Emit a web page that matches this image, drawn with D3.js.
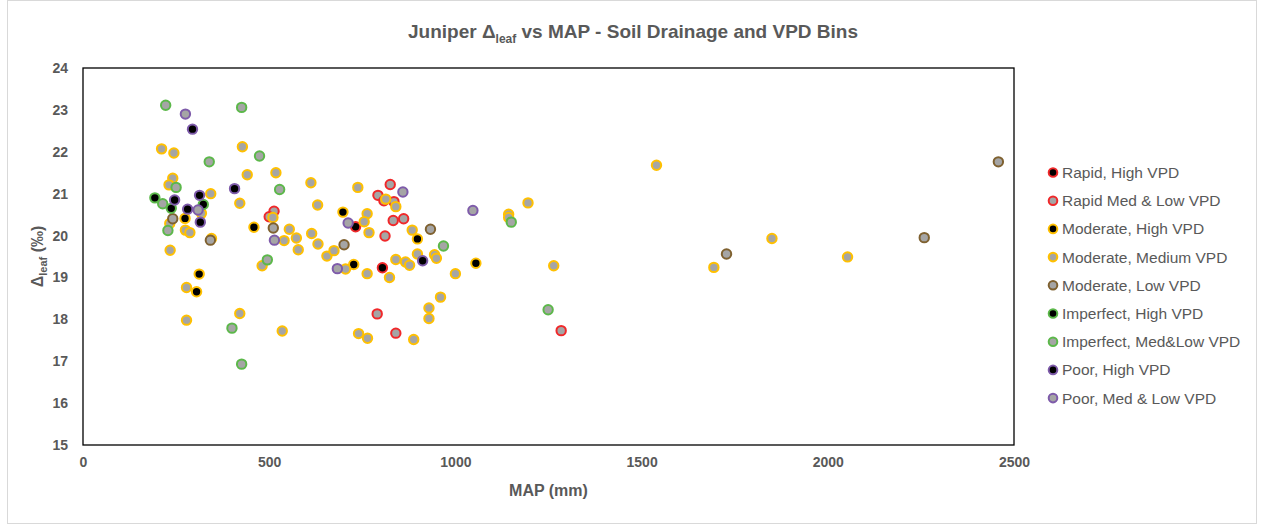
<!DOCTYPE html>
<html>
<head>
<meta charset="utf-8">
<script src="https://cdn.jsdelivr.net/npm/d3@7"></script>
<style>
  body { margin: 0; background: #fff; }
  text { font-family: "Liberation Sans", Arial, sans-serif; fill: #595959; }
</style>
</head>
<body>
<svg id="chart" width="1264" height="525"></svg>
<script>
// series values, [MAP (mm), delta leaf (permil)]
var rapidHigh = [[732,20.21],[804,19.23]];
var rapidMedLow = [[513,20.58],[500,20.45],[825,21.22],[792,20.96],[808,20.83],[835,20.81],[833,20.36],[861,20.40],
    [811,19.99],[790,18.13],[840,17.67],[1284,17.73]];
var moderateHigh = [[274,20.41],[459,20.20],[312,19.08],[305,18.66],[698,20.56],[727,19.31],[898,19.92],[1055,19.34]];
var moderateMedium = [[211,22.07],[244,21.97],[428,22.12],[441,21.45],[518,21.50],[612,21.26],[241,21.37],[231,21.21],
    [343,21.00],[421,20.77],[630,20.73],[233,20.29],[275,20.13],[287,20.07],[510,20.43],[318,20.53],[345,19.93],
    [554,20.15],[540,19.88],[573,19.94],[578,19.66],[614,20.05],[631,19.80],[234,19.65],[481,19.28],[278,18.76],
    [421,18.14],[278,17.98],[535,17.72],[738,21.15],[813,20.87],[840,20.69],[763,20.52],[755,20.33],[768,20.07],
    [655,19.51],[674,19.64],[705,19.20],[763,19.09],[823,19.00],[840,19.43],[866,19.37],[877,19.29],[884,20.13],
    [898,19.56],[944,19.54],[949,19.46],[1000,19.09],[960,18.53],[929,18.27],[929,18.02],[740,17.66],[764,17.55],
    [888,17.52],[1143,20.51],[1143,20.43],[1195,20.78],[1264,19.28],[1540,21.68],[1694,19.24],[1850,19.93],[2053,19.49]];
var moderateLow = [[241,20.40],[511,20.18],[342,19.89],[701,19.78],[933,20.15],[1728,19.56],[2259,19.95],[2458,21.76]];
var imperfectHigh = [[193,20.90],[323,20.74],[237,20.65]];
var imperfectMedLow = [[222,23.11],[426,23.06],[474,21.90],[339,21.76],[528,21.10],[250,21.15],[214,20.76],[228,20.12],
    [495,19.42],[400,17.79],[426,16.93],[968,19.75],[1150,20.32],[1249,18.23]];
var poorHigh = [[294,22.54],[246,20.85],[313,20.96],[407,21.12],[281,20.63],[315,20.32],[912,19.40]];
var poorMedLow = [[275,22.90],[309,20.61],[514,19.89],[859,21.04],[712,20.30],[683,19.21],[1047,20.60]];

var seriesNames = ["Rapid, High VPD","Rapid Med & Low VPD","Moderate, High VPD","Moderate, Medium VPD",
    "Moderate, Low VPD","Imperfect, High VPD","Imperfect, Med&Low VPD","Poor, High VPD","Poor, Med & Low VPD"];
var seriesData = [rapidHigh, rapidMedLow, moderateHigh, moderateMedium, moderateLow,
    imperfectHigh, imperfectMedLow, poorHigh, poorMedLow];
var xTicks = [0,500,1000,1500,2000,2500];
var yTicks = [15,16,17,18,19,20,21,22,23,24];

// marker styles (fill, edge)
var red = "#F0282A", gold = "#FFC000", brown = "#7F6130", green = "#5CB84A", purple = "#7E5BAA";
var dark = "#000000", grey = "#A5A5A5";
var fills = [dark, grey, dark, grey, grey, dark, grey, dark, grey];
var edges = [red, red, gold, gold, brown, green, green, purple, purple];

var svg = d3.select("#chart");
var plotL = 83, plotR = 1014, plotT = 68, plotB = 445;

svg.append("rect").attr("x",7.5).attr("y",0.5).attr("width",1249).attr("height",523)
    .attr("fill","none").attr("stroke","#D9D9D9");

var x = d3.scaleLinear().domain([0,2500]).range([plotL,plotR]);
var y = d3.scaleLinear().domain([15,24]).range([plotB,plotT]);

svg.append("rect").attr("x",plotL).attr("y",plotT).attr("width",plotR-plotL).attr("height",plotB-plotT)
    .attr("fill","none").attr("stroke","#000").attr("stroke-width",1.3);

var xAxis = svg.append("g").attr("transform","translate(0,"+plotB+")")
    .call(d3.axisBottom(x).tickValues(xTicks).tickFormat(d3.format("d")).tickSize(0).tickPadding(12));
var yAxis = svg.append("g").attr("transform","translate("+plotL+",0)")
    .call(d3.axisLeft(y).tickValues(yTicks).tickFormat(d3.format("d")).tickSize(0).tickPadding(15));
[xAxis, yAxis].forEach(function(a){
    a.select(".domain").remove();
    a.selectAll("text").style("font-size","14px").style("font-weight","bold").attr("fill","#595959");
});

// title
var title = svg.append("text").attr("x",633).attr("y",38).attr("text-anchor","middle")
    .style("font-size","19px").style("font-weight","bold");
title.append("tspan").text("Juniper \u0394");
title.append("tspan").text("leaf").attr("dy",5).style("font-size","12px");
title.append("tspan").text(" vs MAP - Soil Drainage and VPD Bins").attr("dy",-5);

// axis titles
svg.append("text").attr("x",(plotL+plotR)/2).attr("y",496).attr("text-anchor","middle")
    .style("font-size","16px").style("font-weight","bold").text("MAP (mm)");
var yt = svg.append("text").attr("transform","translate(43,"+((plotT+plotB)/2)+") rotate(-90)")
    .attr("text-anchor","middle").style("font-size","16px").style("font-weight","bold");
yt.append("tspan").text("\u0394");
yt.append("tspan").text("leaf").attr("dy",4).style("font-size","11px");
yt.append("tspan").text(" (\u2030)").attr("dy",-4);

// points
seriesData.forEach(function(data, i){
    svg.append("g").selectAll("circle").data(data).enter().append("circle")
        .attr("cx", function(d){ return x(d[0]); })
        .attr("cy", function(d){ return y(d[1]); })
        .attr("r", 4.7)
        .attr("fill", fills[i])
        .attr("stroke", edges[i])
        .attr("stroke-width", 2);
});

// legend
var legend = svg.append("g").selectAll("g").data(seriesNames).enter().append("g")
    .attr("transform", function(d,i){ return "translate(1053,"+(172.5+i*28.2)+")"; });
legend.append("circle").attr("r",4.3)
    .attr("fill", function(d,i){ return fills[i]; })
    .attr("stroke", function(d,i){ return edges[i]; })
    .attr("stroke-width", 2);
legend.append("text").attr("x",9).attr("dy","0.35em").style("font-size","15.5px")
    .text(function(d){ return d; });
</script>
</body>
</html>
